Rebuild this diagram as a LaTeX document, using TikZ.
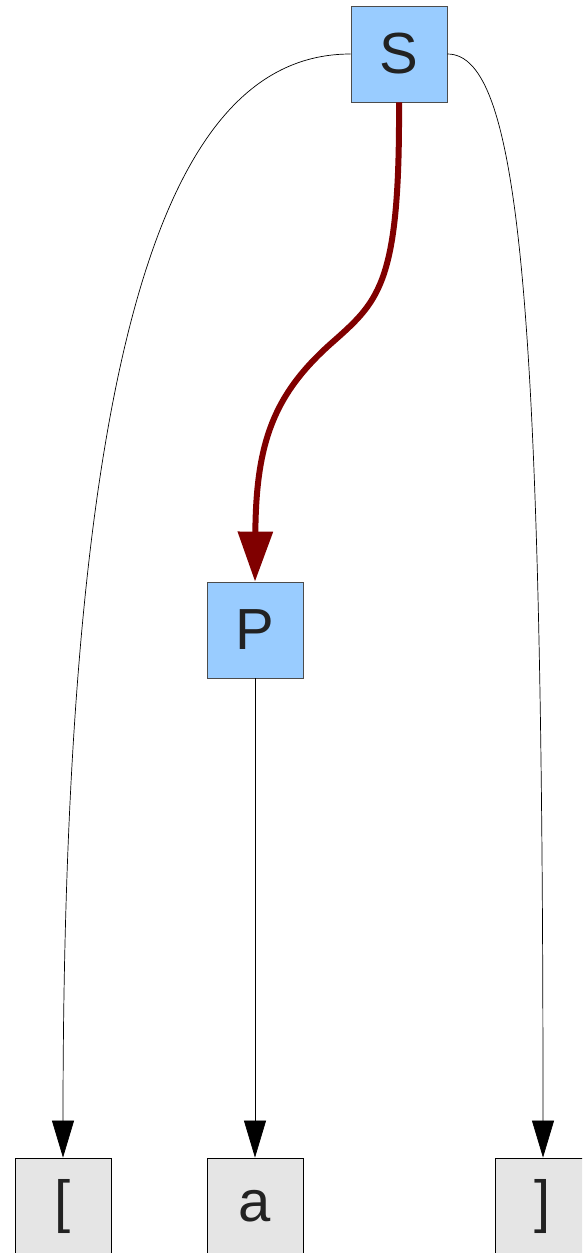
\documentclass[tikz,border=0pt]{standalone}
\usepackage{fontspec}
\setmainfont{Liberation Sans}
\usetikzlibrary{arrows.meta}
\definecolor{nodeblue}{HTML}{99CCFF}
\definecolor{leafgray}{HTML}{E5E5E5}
\definecolor{darkred}{HTML}{800000}
\definecolor{txt}{HTML}{222222}
\begin{document}
\begin{tikzpicture}[x=1pt,y=-1pt,
  nt/.style={draw=black!70,fill=nodeblue,minimum size=96pt,inner sep=0pt,line width=0.8pt,text=txt,font=\fontsize{58}{66}\selectfont},
  leaf/.style={draw=black,fill=leafgray,minimum size=96pt,inner sep=0pt,line width=0.8pt,text=txt,font=\fontsize{58}{66}\selectfont},
  thin/.style={draw=black,line width=0.7pt,-{Triangle[length=37pt,width=22pt]}},
  bold/.style={draw=darkred,line width=6pt,-{Triangle[length=50pt,width=34pt]}}]
\useasboundingbox (0,0) rectangle (582,1253);
\fill[white] (0,0) rectangle (582,1253);
\begin{scope}
\clip (0,0) rectangle (582,1253);
\node[nt] (S) at (399,54) {S};
\node[nt] (P) at (255,630) {P};
\node[leaf] (l) at (63,1206) {[};
\node[leaf] (a) at (255,1206) {a};
\node[leaf] (r) at (543,1206) {]};
\draw[thin] (S.west) .. controls (180,54) and (63,300) .. (l.north);
\draw[thin] (S.east) .. controls (520,54) and (543,300) .. (r.north);
\draw[thin] (P.south) -- (a.north);
\draw[bold] (S.south) .. controls (400,280) and (380,300) .. (335,340)
  .. controls (275,392) and (256,440) .. (P.north);
\end{scope}
\end{tikzpicture}
\end{document}
